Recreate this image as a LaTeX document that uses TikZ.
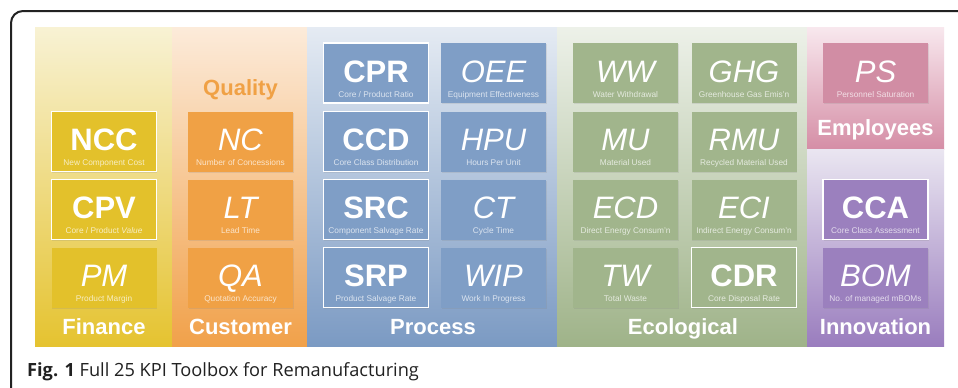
\documentclass[tikz,border=0pt]{standalone}
\usepackage{fontspec}
\setmainfont{Liberation Sans}
\newfontfamily\capfont{Open Sans}
\usetikzlibrary{shadows}
\definecolor{finT}{HTML}{F8F2D4}\definecolor{finB}{HTML}{E5C330}\definecolor{finK}{HTML}{E3C12B}
\definecolor{cusT}{HTML}{FCEBDA}\definecolor{cusB}{HTML}{F1A14A}\definecolor{cusK}{HTML}{F0A145}
\definecolor{proT}{HTML}{E5EBF3}\definecolor{proB}{HTML}{7B9AC3}\definecolor{proK}{HTML}{7F9EC6}
\definecolor{ecoT}{HTML}{EDF1E9}\definecolor{ecoB}{HTML}{9FB389}\definecolor{ecoK}{HTML}{A1B58C}
\definecolor{empT}{HTML}{F8E8EE}\definecolor{empB}{HTML}{D58EA6}\definecolor{empK}{HTML}{D18DA4}
\definecolor{innT}{HTML}{EAE6F1}\definecolor{innB}{HTML}{9A7DBE}\definecolor{innK}{HTML}{9B80BE}
\definecolor{frameC}{HTML}{222222}
\tikzset{
  kpibox/.style={rectangle, minimum width=105pt, minimum height=60pt, inner sep=0pt,
    drop shadow={shadow xshift=0.6pt, shadow yshift=-1.2pt, opacity=0.18}},
  kpihl/.style={kpibox, draw=white, line width=1.8pt},
  kpiplain/.style={kpibox},
  abbrB/.style={anchor=base, inner sep=0pt, text=white, font=\fontsize{31}{31}\selectfont\bfseries},
  abbrI/.style={anchor=base, inner sep=0pt, text=white, font=\fontsize{31}{31}\selectfont\itshape},
  subtxt/.style={anchor=base, inner sep=0pt, text=white, text opacity=0.72, font=\fontsize{8.3}{9}\selectfont},
  grplabel/.style={anchor=base, inner sep=0pt, text=white, font=\fontsize{22}{22}\selectfont\bfseries},
}
\newcommand\kpiB[6]{%
  \node[kpihl, fill=#4] (#1) at (#2,#3+30) {};
  \node[abbrB] (#1-abbr) at (#2,#3+39) {#5};
  \node[subtxt] (#1-sub) at (#2,#3+54) {#6};}
\newcommand\kpiI[6]{%
  \node[kpiplain, fill=#4] (#1) at (#2,#3+30) {};
  \node[abbrI] (#1-abbr) at (#2,#3+39) {#5};
  \node[subtxt] (#1-sub) at (#2,#3+54) {#6};}
\begin{document}
\begin{tikzpicture}[x=1pt,y=-1pt]
\useasboundingbox (0,0) rectangle (958,388);
\fill[white] (0,0) rectangle (958,388);
% column backgrounds
\shade[top color=finT, bottom color=finB] (35,27) rectangle (172,346);
\shade[top color=cusT, bottom color=cusB] (172,27) rectangle (307,346);
\shade[top color=proT, bottom color=proB] (307,27) rectangle (557,346);
\shade[top color=ecoT, bottom color=ecoB] (557,27) rectangle (807,346);
\shade[top color=empT, bottom color=empB] (807,27) rectangle (944,149);
\shade[top color=innT, bottom color=innB] (807,149) rectangle (944,346);
% frame
\draw[line width=2pt, frameC, rounded corners=12pt] (11,400) -- (11,11) -- (975,11);
% Finance
\kpiB{NCC}{104}{111.5}{finK}{NCC}{New Component Cost}
\kpiB{CPV}{104}{179.5}{finK}{CPV}{Core / Product \textit{Value}}
\kpiI{PM}{104}{247.5}{finK}{PM}{Product Margin}
\node[grplabel] (finance) at (104,334) {Finance};
% Customer
\node[grplabel, text=cusK] (quality) at (240.5,95) {Quality};
\kpiI{NC}{240.5}{111.5}{cusK}{NC}{Number of Concessions}
\kpiI{LT}{240.5}{179.5}{cusK}{LT}{Lead Time}
\kpiI{QA}{240.5}{247.5}{cusK}{QA}{Quotation Accuracy}
\node[grplabel] (customer) at (240.5,334) {Customer};
% Process
\kpiB{CPR}{376}{43}{proK}{CPR}{Core / Product Ratio}
\kpiI{OEE}{493.5}{43}{proK}{OEE}{Equipment Effectiveness}
\kpiB{CCD}{376}{111.5}{proK}{CCD}{Core Class Distribution}
\kpiI{HPU}{493.5}{111.5}{proK}{HPU}{Hours Per Unit}
\kpiB{SRC}{376}{179.5}{proK}{SRC}{Component Salvage Rate}
\kpiI{CT}{493.5}{179.5}{proK}{CT}{Cycle Time}
\kpiB{SRP}{376}{247.5}{proK}{SRP}{Product Salvage Rate}
\kpiI{WIP}{493.5}{247.5}{proK}{WIP}{Work In Progress}
\node[grplabel] (process) at (433,334) {Process};
% Ecological
\kpiI{WW}{625.5}{43}{ecoK}{WW}{Water Withdrawal}
\kpiI{GHG}{744}{43}{ecoK}{GHG}{Greenhouse Gas Emis'n}
\kpiI{MU}{625.5}{111.5}{ecoK}{MU}{Material Used}
\kpiI{RMU}{744}{111.5}{ecoK}{RMU}{Recycled Material Used}
\kpiI{ECD}{625.5}{179.5}{ecoK}{ECD}{Direct Energy Consum'n}
\kpiI{ECI}{744}{179.5}{ecoK}{ECI}{Indirect Energy Consum'n}
\kpiI{TW}{625.5}{247.5}{ecoK}{TW}{Total Waste}
\kpiB{CDR}{744}{247.5}{ecoK}{CDR}{Core Disposal Rate}
\node[grplabel] (ecological) at (683,334) {Ecological};
% Employees
\kpiI{PS}{875.5}{43}{empK}{PS}{Personnel Saturation}
\node[grplabel] (employees) at (875.5,135) {Employees};
% Innovation
\kpiB{CCA}{875.5}{179.5}{innK}{CCA}{Core Class Assessment}
\kpiI{BOM}{875.5}{247.5}{innK}{BOM}{No. of managed mBOMs}
\node[grplabel] (innovation) at (875.5,334) {Innovation};
% caption
\node[anchor=base west, inner sep=0pt, text=black!87, font=\capfont\fontsize{18.2}{20}\selectfont] (caption) at (27,376) {\textbf{Fig. 1} Full 25 KPI Toolbox for Remanufacturing};
\end{tikzpicture}
\end{document}
